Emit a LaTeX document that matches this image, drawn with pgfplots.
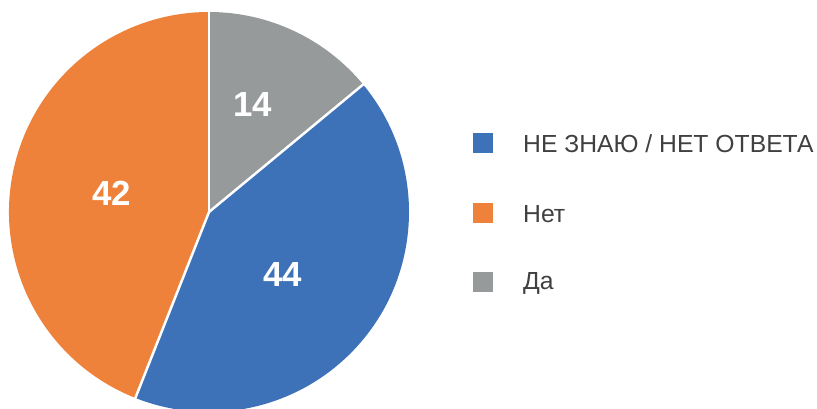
\documentclass[border=0pt]{standalone}
\usepackage{fontspec}
\setmainfont{Liberation Sans}
\usepackage{pgfplots}
\pgfplotsset{compat=1.18}
\definecolor{cblue}{HTML}{3D72B9}
\definecolor{corange}{HTML}{EE823B}
\definecolor{cgray}{HTML}{979A9A}
\definecolor{ctext}{HTML}{404040}
\begin{document}
\begin{tikzpicture}
% slice sizes (percent, clockwise from top): gray, blue, orange
\def\vg{14}\def\vb{42}\def\vo{44}
\pgfmathsetmacro{\aA}{90}
\pgfmathsetmacro{\aB}{90-3.6*\vg}
\pgfmathsetmacro{\aC}{\aB-3.6*\vb}
\pgfmathsetmacro{\aD}{\aC-3.6*\vo}
\begin{axis}[
  width=817bp, height=409bp, scale only axis,
  xmin=0, xmax=817, ymin=0, ymax=409,
  hide axis, clip=true,
]
\fill[cgray] (axis cs:209,197) -- ++(\aA:200bp) arc[start angle=\aA, end angle=\aB, radius=200bp] -- cycle;
\fill[cblue] (axis cs:209,197) -- ++(\aB:200bp) arc[start angle=\aB, end angle=\aC, radius=200bp] -- cycle;
\fill[corange] (axis cs:209,197) -- ++(\aC:200bp) arc[start angle=\aC, end angle=\aD, radius=200bp] -- cycle;
\draw[white, line width=2.5bp] (axis cs:209,197) -- ++(\aA:202bp);
\draw[white, line width=2.5bp] (axis cs:209,197) -- ++(\aB:202bp);
\draw[white, line width=2.5bp] (axis cs:209,197) -- ++(\aC:202bp);
\node[white, font=\fontsize{35}{40}\selectfont\bfseries] at (axis cs:253,304) {14};
\node[white, font=\fontsize{35}{40}\selectfont\bfseries] at (axis cs:283,134) {44};
\node[white, font=\fontsize{35}{40}\selectfont\bfseries] at (axis cs:112,216) {42};
% legend
\fill[cblue] (axis cs:473,256) rectangle (axis cs:493,276);
\fill[corange] (axis cs:473,186) rectangle (axis cs:493,206);
\fill[cgray] (axis cs:473,117) rectangle (axis cs:493,137);
\node[anchor=base west, inner sep=0pt, text=ctext, font=\fontsize{24.8}{28}\selectfont] at (axis cs:523,256) {НЕ ЗНАЮ / НЕТ ОТВЕТА};
\node[anchor=base west, inner sep=0pt, text=ctext, font=\fontsize{24.8}{28}\selectfont] at (axis cs:523,186) {Нет};
\node[anchor=base west, inner sep=0pt, text=ctext, font=\fontsize{24.8}{28}\selectfont] at (axis cs:523,119) {Да};
\end{axis}
\pgfresetboundingbox
\path[use as bounding box] (current axis.south west) rectangle (current axis.north east);
\end{tikzpicture}
\end{document}
